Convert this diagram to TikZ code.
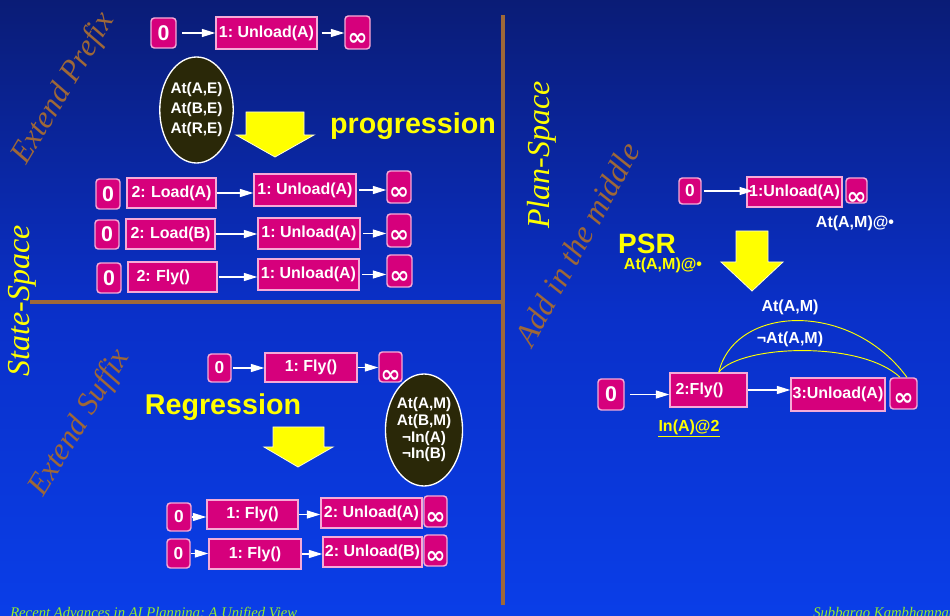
\documentclass[tikz,border=0pt]{standalone}
\usepackage{fontspec}
\setmainfont{Liberation Sans}
\newfontfamily\serifit{Liberation Serif}
\newfontfamily\symf{DejaVu Sans}
\usetikzlibrary{arrows.meta,shapes.geometric}
\frenchspacing
\newdimen\px \px=0.75pt
\definecolor{bgtop}{RGB}{10,28,118}
\definecolor{bgmid}{RGB}{10,48,200}
\definecolor{bgbot}{RGB}{10,62,232}
\definecolor{mag}{RGB}{214,0,124}
\definecolor{magedge}{RGB}{245,170,215}
\definecolor{brownc}{RGB}{158,104,56}
\definecolor{olive}{RGB}{42,40,8}
\definecolor{ylw}{RGB}{255,255,0}
\definecolor{footg}{RGB}{150,238,40}
\newcommand\infs[1]{\raisebox{-#1\px}[\height][\depth]{\symf\bfseries\fontsize{18}{18}\selectfont ∞}}
\tikzset{
  base/.style={draw=magedge, line width=1.1pt, fill=mag, text=white, font=\bfseries\fontsize{12}{12}\selectfont, inner sep=0pt},
  zbox/.style={base, rounded corners=2.5pt, font=\bfseries\fontsize{16}{16}\selectfont},
  zsbox/.style={base, rounded corners=2.5pt, font=\bfseries\fontsize{13}{13}\selectfont},
  ibox/.style={base, rounded corners=2.5pt},
  abox/.style={base},
  lbox/.style={base, align=left, text width=#1\px, inner xsep=4.5\px},
  sz/.style 2 args={minimum width=#1\px, minimum height=#2\px},
  conn/.style={draw=white, line width=0.8pt, -{Triangle[length=10pt,width=6pt]}},
  pre/.style={draw=white, line width=1pt, fill=olive, ellipse, inner sep=0pt, text=white, align=center, font=\bfseries\fontsize{11.5}{15}\selectfont},
  bigarrow/.style={fill=ylw, draw=white!85!yellow, line width=0.6pt},
  brownline/.style={draw=brownc, line width=3.2pt},
  diag/.style={text=brownc, font=\serifit\itshape\fontsize{23.5}{23.5}\selectfont, inner sep=0pt},
  side/.style={text=ylw, font=\serifit\itshape\fontsize{24}{24}\selectfont, inner sep=0pt},
  wlab/.style={text=white, font=\bfseries\fontsize{12}{12}\selectfont, inner sep=0pt},
  ylab/.style={text=ylw, font=\bfseries\fontsize{12}{12}\selectfont, inner sep=0pt},
  big/.style={text=ylw, font=\bfseries\fontsize{#1}{#1}\selectfont, inner sep=0pt},
  foot/.style={text=footg, font=\serifit\itshape\fontsize{11}{11}\selectfont, inner sep=0pt},
  thread/.style={draw=ylw, line width=0.7pt}
}
\begin{document}
\begin{tikzpicture}[x=0.75pt,y=-0.75pt]
\clip (0,0) rectangle (950,616);
\shade[top color=bgtop, bottom color=bgbot, middle color=bgmid] (0,0) rectangle (950,616);

% dividing lines
\draw[brownline] (503,15) -- (503,605);
\draw[brownline] (30,302) -- (503,302);

% rotated titles
\node[diag, rotate=59] (tExtP) at (64,89) {Extend Prefix};
\node[diag, rotate=58.5] (tExtS) at (80,423) {Extend Suffix};
\node[diag, rotate=61.4, font=\serifit\itshape\fontsize{24}{24}\selectfont] (tAdd) at (577,244) {Add in the middle};
\node[side, rotate=90] (tSS) at (22,301) {State-Space};
\node[side, rotate=90] (tPS) at (542,155) {Plan-Space};

% ---------- progression ----------
\node[zbox, sz={25}{30}] (z1) at (163.5,33) {0};
\node[abox, sz={101}{32}] (u1) at (266.5,33) {1: Unload(A)};
\node[ibox, sz={25}{33}] (i1) at (357.5,32.5) {\infs{7}};
\draw[conn] ([xshift=4]z1.east) -- (z1.east -| u1.west);
\draw[conn] ([xshift=3]u1.east) -- (u1.east -| i1.west);

\node[pre, minimum width=67\px, minimum height=106\px] (e1) at (196.5,110) {At(A,E)\\At(B,E)\\At(R,E)};
\fill[bigarrow] (246,112) -- (304,112) -- (304,135) -- (314,135) -- (275,157) -- (236,135) -- (246,135) -- cycle;
\node[big=21.5] (prog) at (413,126) {progression};

\node[zbox, sz={24}{30}] (r1z) at (108,194) {0};
\node[lbox=80, sz={89}{30}] (r1a) at (171.5,193) {2: Load(A)};
\node[abox, sz={102}{32}] (r1b) at (305,190) {1: Unload(A)};
\node[ibox, sz={24}{32}] (r1i) at (399,187) {\infs{6}};
\draw[conn] (r1a.east) -- (r1a.east -| r1b.west);
\draw[conn] ([xshift=2]r1b.east) -- (r1b.east -| r1i.west);

\node[zbox, sz={24}{29}] (r2z) at (107,234.5) {0};
\node[lbox=80, sz={89}{30}] (r2a) at (170.5,234) {2: Load(B)};
\node[abox, sz={102}{31}] (r2b) at (309,233.5) {1: Unload(A)};
\node[ibox, sz={24}{33}] (r2i) at (399,230.5) {\infs{6}};
\draw[conn] (r2a.east) -- (r2a.east -| r2b.west);
\draw[conn] ([xshift=2]r2b.east) -- (r2b.east -| r2i.west);

\node[zbox, sz={24}{30}] (r3z) at (109,278) {0};
\node[lbox=80, sz={89}{30}] (r3a) at (172.5,277) {\hspace*{4\px}2: Fly()};
\node[abox, sz={101}{31}] (r3b) at (308.5,274.5) {1: Unload(A)};
\node[ibox, sz={25}{32}] (r3i) at (399.5,271) {\infs{6}};
\draw[conn] ([xshift=1]r3a.east) -- (r3a.east -| r3b.west);
\draw[conn] ([xshift=2]r3b.east) -- (r3b.east -| r3i.west);

% ---------- regression ----------
\node[zsbox, sz={23}{28}] (sz0) at (219.5,368) {0};
\node[abox, sz={92}{29}] (sf) at (311,367.5) {1: Fly()};
\node[ibox, sz={23}{30}] (si) at (390.5,367) {\infs{9}};
\draw[conn] ([xshift=1]sz0.east) -- (sz0.east -| sf.west);
\draw[conn] (sf.east) -- (sf.east -| si.west);

\node[big=21.5] (regr) at (223,407) {Regression};
\fill[bigarrow] (273,427) -- (324,427) -- (324,447) -- (333,447) -- (298,467) -- (264,447) -- (273,447) -- cycle;
\node[pre, minimum width=70\px, minimum height=112\px, font=\bfseries\fontsize{11.5}{12.5}\selectfont] (e2) at (424,430) {At(A,M)\\At(B,M)\\¬In(A)\\¬In(B)};

\node[zsbox, sz={24}{28}] (az) at (179,517) {0};
\node[abox, sz={91}{29}] (af) at (252.5,514.5) {1: Fly()};
\node[abox, sz={101}{30}] (au) at (371.5,513) {2: Unload(A)};
\node[ibox, sz={23}{31}] (ai) at (435.5,511.5) {\infs{7}};
\draw[conn] (az.east) -- (az.east -| af.west);
\draw[conn] (af.east) -- (af.east -| au.west);

\node[zsbox, sz={23}{29}] (bz) at (178.5,553.5) {0};
\node[abox, sz={92}{30}] (bf) at (255,554) {1: Fly()};
\node[abox, sz={99}{30}] (bu) at (372.5,552) {2: Unload(B)};
\node[ibox, sz={23}{31}] (bi) at (435.5,550.5) {\infs{7}};
\draw[conn] (bz.east) -- (bz.east -| bf.west);
\draw[conn] (bf.east) -- (bf.east -| bu.west);

% ---------- plan space ----------
\node[zsbox, sz={22}{26}] (pz) at (690,191) {0};
\node[abox, sz={95}{30}] (pu) at (794.5,192) {1:Unload(A)};
\node[ibox, sz={21}{25}] (pi) at (856.5,190.5) {\infs{8}};
\draw[conn] ([xshift=2]pz.east) -- ([xshift=5]pz.east -| pu.west);
\node[wlab] (pl1) at (855,223) {At(A,M)@•};

\node[big=21] (psr) at (647,244) {PSR};
\node[ylab] (pl2) at (663,265) {At(A,M)@•};
\fill[bigarrow] (736,231) -- (768,231) -- (768,262) -- (783,262) -- (752,291) -- (721,262) -- (736,262) -- cycle;

\node[zbox, sz={26}{31}] (q0) at (611,394.5) {0};
\node[abox, sz={77}{34}, align=left, text width=66\px, inner xsep=5.5\px] (q2) at (708.5,390) {2:Fly()};
\node[abox, sz={94}{33}] (q3) at (838,394.5) {3:Unload(A)};
\node[ibox, sz={27}{31}] (qi) at (903.5,393.5) {\infs{6}};
\draw[conn] ([xshift=4]q0.east) -- (q0.east -| q2.west);
\draw[conn] (q2.east) -- (q2.east -| q3.west);
\draw[thread] (q2.60) .. controls (735,305) and (850,300) .. (qi.78);
\draw[thread] (q2.60) .. controls (740,345) and (860,340) .. (qi.102);
\node[wlab] (cl1) at (790,307) {At(A,M)};
\node[wlab] (cl2) at (790,339) {¬At(A,M)};
\node[ylab] (inA) at (689,427) {In(A)@2};
\draw[draw=ylw, line width=0.7pt] ([yshift=-1.5]inA.south west) -- ([yshift=-1.5]inA.south east);

% footer
\node[foot, anchor=base west] (f1) at (10,617) {Recent Advances in AI Planning: A Unified View};
\node[foot, anchor=base west] (f2) at (813,617) {Subbarao Kambhampati};
\end{tikzpicture}
\end{document}
